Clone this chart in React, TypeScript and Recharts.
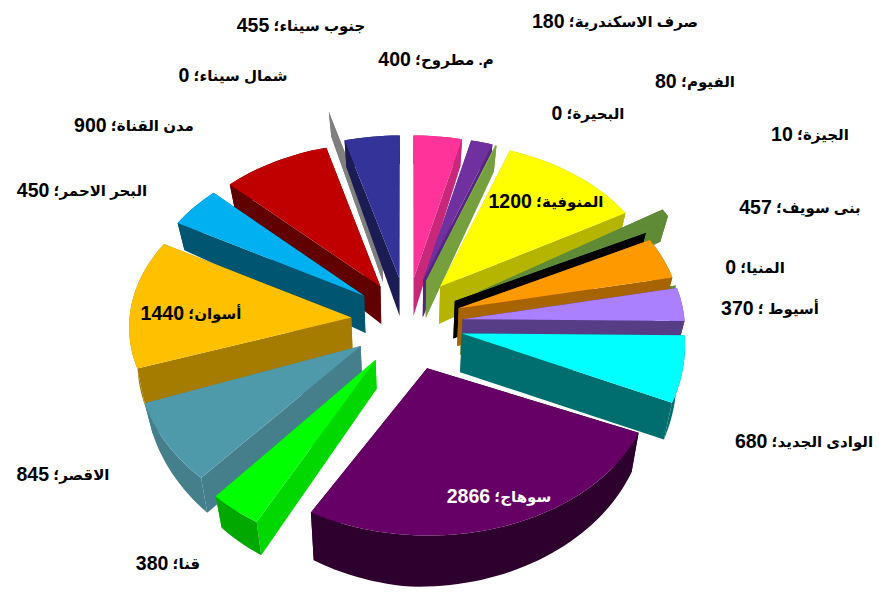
import React from "react";
import { Pie, PieChart } from "recharts";

const names = [
  "م. مطروح", "صرف الاسكندرية", "الجيزة", "المنوفية", "الفيوم", "البحيرة",
  "بنى سويف", "المنيا", "أسيوط ", "الوادى الجديد", "سوهاج", "قنا",
  "الاقصر", "أسوان", "البحر الاحمر", "مدن القناة", "شمال سيناء", "جنوب سيناء",
];
const values = [400, 180, 10, 1200, 80, 0, 457, 0, 370, 680, 2866, 380, 845, 1440, 450, 900, 0, 455];

const topColors = [
  "#ff3399", "#7030a0", "#8cb24c", "#ffff00", "#5f8a36", "#000000",
  "#ff9900", "#5f8a36", "#aa80ff", "#00ffff", "#660066", "#00ff00",
  "#4f9aaa", "#ffc000", "#00b0f0", "#c00000", "#7f7f7f", "#333399",
];
const wallColors = [
  "#c9287a", "#562580", "#76a03e", "#b5b500", "#5f8a36", "#000000",
  "#a86400", "#5f8a36", "#563d85", "#006e6e", "#2e002e", "#00d800",
  "#457f8b", "#a67c00", "#005570", "#600000", "#7f7f7f", "#1c1c55",
];
const rimColors = [
  "#c9287a", "#562580", "#76a03e", "#b5b500", "#5f8a36", "#000000",
  "#a86400", "#5f8a36", "#563d85", "#006e6e", "#2e002e", "#00a800",
  "#457f8b", "#a67c00", "#005570", "#600000", "#7f7f7f", "#1c1c55",
];
const explode = [58, 58, 58, 52, 80, 54, 55, 52, 56, 58, 72, 56, 55, 55, 54, 53, 108, 58];
const nudge = [
  [0, 0], [0, 0], [0, 0], [0, -4], [2, 0], [0, 0],
  [0, 3], [4, 6], [0, 5], [-2, 7], [-3, 2], [2, 10],
  [0, 7], [-1, 3], [0, 0], [0, 0], [3, 0], [0, 0],
];
const stretch = [1, 1, 1, 1, 1.12, 1, 1, 1, 1, 1.1, 1, 1.13, 1.1, 1, 1, 1, 1, 1];
const deep = [1, 1, 1, 1, 1, 1, 1, 1, 1, 1, 1, 0.72, 0.82, 1.1, 1, 1, 1, 1];
// back to front
const drawOrder = [16, 17, 0, 1, 2, 15, 3, 14, 4, 5, 7, 6, 8, 13, 9, 12, 11, 10];
const labelSpots = [
  [436, 59], [615, 21], [810, 134], [546, 201], [695, 81], [588, 113],
  [800, 207], [755, 267], [770, 308], [804, 441], [499, 496], [168, 563],
  [63, 474], [191, 313], [82, 190], [134, 125], [233, 75], [301, 25],
];

const rows = names.map((name, idx) => ({ name, idx, value: values[idx] }));

const CX = 407;
const CY = 318;
const R = 222;
const TILT = 0.694;
const PERSPECTIVE = 0.05;
const LOW_SCALE = 0.97;

const rad = (deg: number) => (deg * Math.PI) / 180;

const makeWedge = (props: any, i: number) => {
  const a0 = 90 - props.startAngle;
  const a1 = 90 - props.endAngle;
  const mid = rad((a0 + a1) / 2);
  const ox = explode[i] * Math.sin(mid);
  const oy = -explode[i] * Math.cos(mid);
  const [nx, ny] = nudge[i];

  const project = (ang: number, r: number, low: boolean) => {
    const u = ox + r * Math.sin(rad(ang));
    const v = oy - r * stretch[i] * Math.cos(rad(ang));
    const p = 1 / (1 - (PERSPECTIVE * v) / R);
    const drop = low ? (40 + 0.04 * v - 0.03 * Math.abs(u)) * deep[i] : 0;
    const x = u * p * (low ? LOW_SCALE : 1);
    return `${props.cx + nx + x},${props.cy + ny + v * TILT * p + drop}`;
  };

  const steps = Math.max(1, Math.ceil((a1 - a0) / 2));
  const angles = Array.from({ length: steps + 1 }, (_, s) => a0 + ((a1 - a0) * s) / steps);
  const arcTop = angles.map((a) => project(a, R, false));
  const arcLow = angles.map((a) => project(a, R, true)).reverse();

  const radialWall = (a: number) =>
    [project(a, 0, false), project(a, R, false), project(a, R, true), project(a, 0, true)].join(" ");

  return (
    <g>
      <polygon points={radialWall(a0)} fill={wallColors[i]} />
      <polygon points={radialWall(a1)} fill={wallColors[i]} />
      <polygon points={[...arcTop, ...arcLow].join(" ")} fill={rimColors[i]} />
      {a1 > a0 && <polygon points={[project(a0, 0, false), ...arcTop].join(" ")} fill={topColors[i]} />}
    </g>
  );
};

const renderLabel = (props: any) => {
  const i = props.index;
  const [x, y] = labelSpots[i];
  return (
    <text
      key={i}
      x={x}
      y={y}
      direction="rtl"
      textAnchor="middle"
      dominantBaseline="central"
      fontFamily="'Liberation Sans', 'DejaVu Sans', sans-serif"
      fontWeight="bold"
      fill={i === 10 ? "#ffffff" : "#000000"}
    >
      <tspan fontSize={15}>{`${names[i]}؛ `}</tspan>
      <tspan fontSize={19.5}>{values[i]}</tspan>
    </text>
  );
};

const App: React.FC = () => {
  return (
    <div style={{ position: "absolute", left: 0, top: 0, width: 879, height: 606, background: "#fff" }}>
      <PieChart width={879} height={606} margin={{ top: 0, right: 0, bottom: 0, left: 0 }}>
        {drawOrder.map((i) => (
          <Pie
            key={i}
            data={rows}
            dataKey="value"
            nameKey="name"
            cx={CX}
            cy={CY}
            outerRadius={R}
            startAngle={90}
            endAngle={-270}
            stroke="none"
            isAnimationActive={false}
            shape={(props: any) => ((props.idx ?? props.payload?.idx) === i ? makeWedge(props, i) : <g />)}
          />
        ))}
        <Pie
          data={rows}
          dataKey="value"
          nameKey="name"
          cx={CX}
          cy={CY}
          outerRadius={R}
          startAngle={90}
          endAngle={-270}
          stroke="none"
          isAnimationActive={false}
          shape={() => <g />}
          label={renderLabel}
          labelLine={false}
        />
      </PieChart>
    </div>
  );
};

export default App;
